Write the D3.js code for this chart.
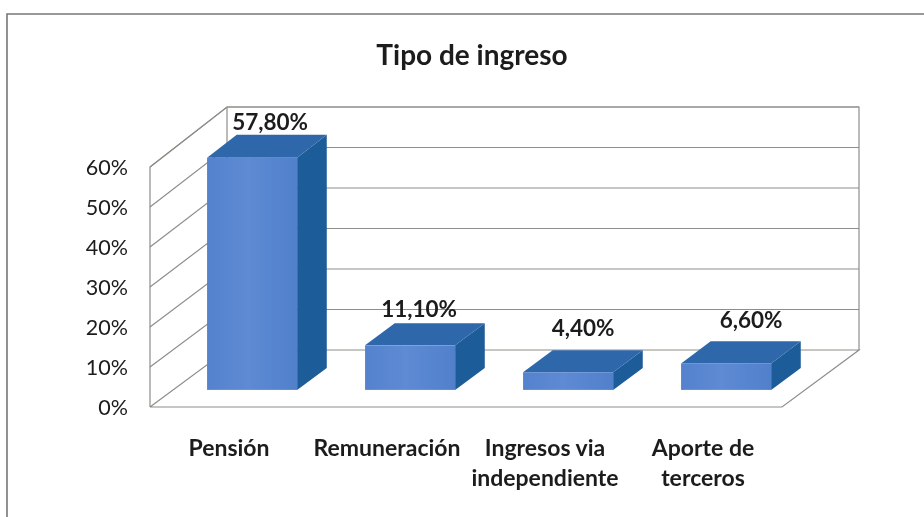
<!DOCTYPE html>
<html>
<head>
<meta charset="utf-8">
<script src="https://cdn.jsdelivr.net/npm/d3@7"></script>
<style>
  html, body { margin: 0; padding: 0; background: #fff; }
  svg { display: block; }
  text { font-family: Lato, "Open Sans", sans-serif; fill: #1c1c1c; }
</style>
</head>
<body>
<div id="chart"></div>
<script>
var title = "Tipo de ingreso";
var categories = ["Pensión", "Remuneración", "Ingresos via independiente", "Aporte de terceros"];
var categoryLines = [["Pensión"], ["Remuneración"], ["Ingresos via", "independiente"], ["Aporte de", "terceros"]];
var values = [57.8, 11.1, 4.4, 6.6];
var valueLabels = ["57,80%", "11,10%", "4,40%", "6,60%"];
var yTicks = [0, 10, 20, 30, 40, 50, 60];

var width = 924;
var height = 517;

// the box floor is a skewed plane, front edge to back edge
var depthX = 77, depthY = -57;
var barNear = 0.3, barFar = 0.685;

// hand placed value labels, the original ones do not sit centred on the bars
var labelShiftX = [18, 9, 15, 25];
var labelShiftY = [-5, -6, -14, -13];

var svg = d3.select("#chart")
  .append("svg")
    .attr("width", width)
    .attr("height", height);

// the reference is a scan, a bit of blur gets the soft edges
svg.append("defs")
  .append("filter")
    .attr("id", "scan")
    .attr("x", 0).attr("y", 0).attr("width", 1).attr("height", 1)
    .attr("filterUnits", "objectBoundingBox")
  .append("feGaussianBlur")
    .attr("stdDeviation", 0.45);

var root = svg.append("g").attr("filter", "url(#scan)");

root.append("rect").attr("width", width).attr("height", height).attr("fill", "#fff");

var yFront = d3.scaleLinear().domain([0, 60]).range([407, 167]);
var yBack = d3.scaleLinear().domain([0, 60]).range([350, 107]);
var x = d3.scaleBand()
  .domain(categories)
  .range([150, 782])
  .paddingInner(0.43)
  .paddingOuter(0.215);

var line = d3.line();
var wall = "#8e8e88";

// only the top and left of the chart frame made it into the scan
root.append("path")
  .attr("d", line([[7, height], [7, 14], [width, 14]]))
  .attr("fill", "none")
  .attr("stroke", "#777")
  .attr("stroke-width", 1.6);

root.append("text")
  .attr("x", 472).attr("y", 65)
  .attr("text-anchor", "middle")
  .style("font-size", "28px")
  .style("font-weight", 700)
  .text(title);

// floor and walls
var grid = root.append("g").attr("fill", "none").attr("stroke", wall).attr("stroke-width", 1.2);

grid.append("path").attr("d", line([
  [150, yFront(0)], [150 + depthX, yBack(0)], [782 + depthX, yBack(0)], [782, yFront(0)], [150, yFront(0)]
]));
grid.append("path").attr("d", line([
  [150, yFront(0)], [150, yFront(60)], [150 + depthX, yBack(60)], [782 + depthX, yBack(60)], [782 + depthX, yBack(0)]
]));
grid.append("line")
  .attr("x1", 150 + depthX).attr("x2", 150 + depthX)
  .attr("y1", yBack(0)).attr("y2", yBack(60));

grid.selectAll(".wall-line")
  .data(yTicks.slice(1))
  .enter()
    .append("path")
      .attr("d", function (d) {
        return line([[150, yFront(d)], [150 + depthX, yBack(d)], [782 + depthX, yBack(d)]]);
      });

root.selectAll(".ytick")
  .data(yTicks)
  .enter()
    .append("text")
      .attr("x", 128)
      .attr("y", function (d) { return yFront(d) + 8; })
      .attr("text-anchor", "end")
      .style("font-size", "21.5px")
      .text(function (d) { return d + "%"; });

// bars: side, top, front
var grad = svg.select("defs").append("linearGradient").attr("id", "barFront");
grad.append("stop").attr("offset", "0%").attr("stop-color", "#5582cc");
grad.append("stop").attr("offset", "45%").attr("stop-color", "#5e8ad4");
grad.append("stop").attr("offset", "100%").attr("stop-color", "#5180ca");

function px(cat, side, t) {
  return x(cat) + side * x.bandwidth() + depthX * t;
}
function py(v, t) {
  return yFront(v) + (yBack(v) - yFront(v)) * t;
}

var bars = root.selectAll(".bar")
  .data(categories)
  .enter()
    .append("g");

bars.append("path")
  .attr("fill", "#1f5c99")
  .attr("d", function (c, i) {
    return line([
      [px(c, 1, barNear), py(0, barNear)],
      [px(c, 1, barFar), py(0, barFar)],
      [px(c, 1, barFar), py(values[i], barFar)],
      [px(c, 1, barNear), py(values[i], barNear)]
    ]) + "Z";
  });

bars.append("path")
  .attr("fill", "#2e68aa")
  .attr("d", function (c, i) {
    return line([
      [px(c, 0, barNear), py(values[i], barNear)],
      [px(c, 0, barFar), py(values[i], barFar)],
      [px(c, 1, barFar), py(values[i], barFar)],
      [px(c, 1, barNear), py(values[i], barNear)]
    ]) + "Z";
  });

bars.append("rect")
  .attr("fill", "url(#barFront)")
  .attr("x", function (c) { return px(c, 0, barNear); })
  .attr("y", function (c, i) { return py(values[i], barNear); })
  .attr("width", x.bandwidth())
  .attr("height", function (c, i) { return py(0, barNear) - py(values[i], barNear); });

root.selectAll(".value")
  .data(categories)
  .enter()
    .append("text")
      .attr("x", function (c, i) { return px(c, 0.5, barNear) + labelShiftX[i]; })
      .attr("y", function (c, i) { return py(values[i], barFar) + labelShiftY[i]; })
      .attr("text-anchor", "middle")
      .style("font-size", "22.5px")
      .style("font-weight", 700)
      .text(function (c, i) { return valueLabels[i]; });

// category labels, two of them wrap
var cats = root.selectAll(".cat")
  .data(categories)
  .enter()
    .append("text")
      .attr("text-anchor", "middle")
      .style("font-size", "23px")
      .style("font-weight", 700)
      .attr("transform", function (c) { return "translate(" + (x(c) + x.bandwidth() / 2) + ",456)"; });

cats.selectAll("tspan")
  .data(function (c, i) { return categoryLines[i]; })
  .enter()
    .append("tspan")
      .attr("x", 0)
      .attr("y", function (d, i) { return i * 30; })
      .text(function (d) { return d; });
</script>
</body>
</html>
